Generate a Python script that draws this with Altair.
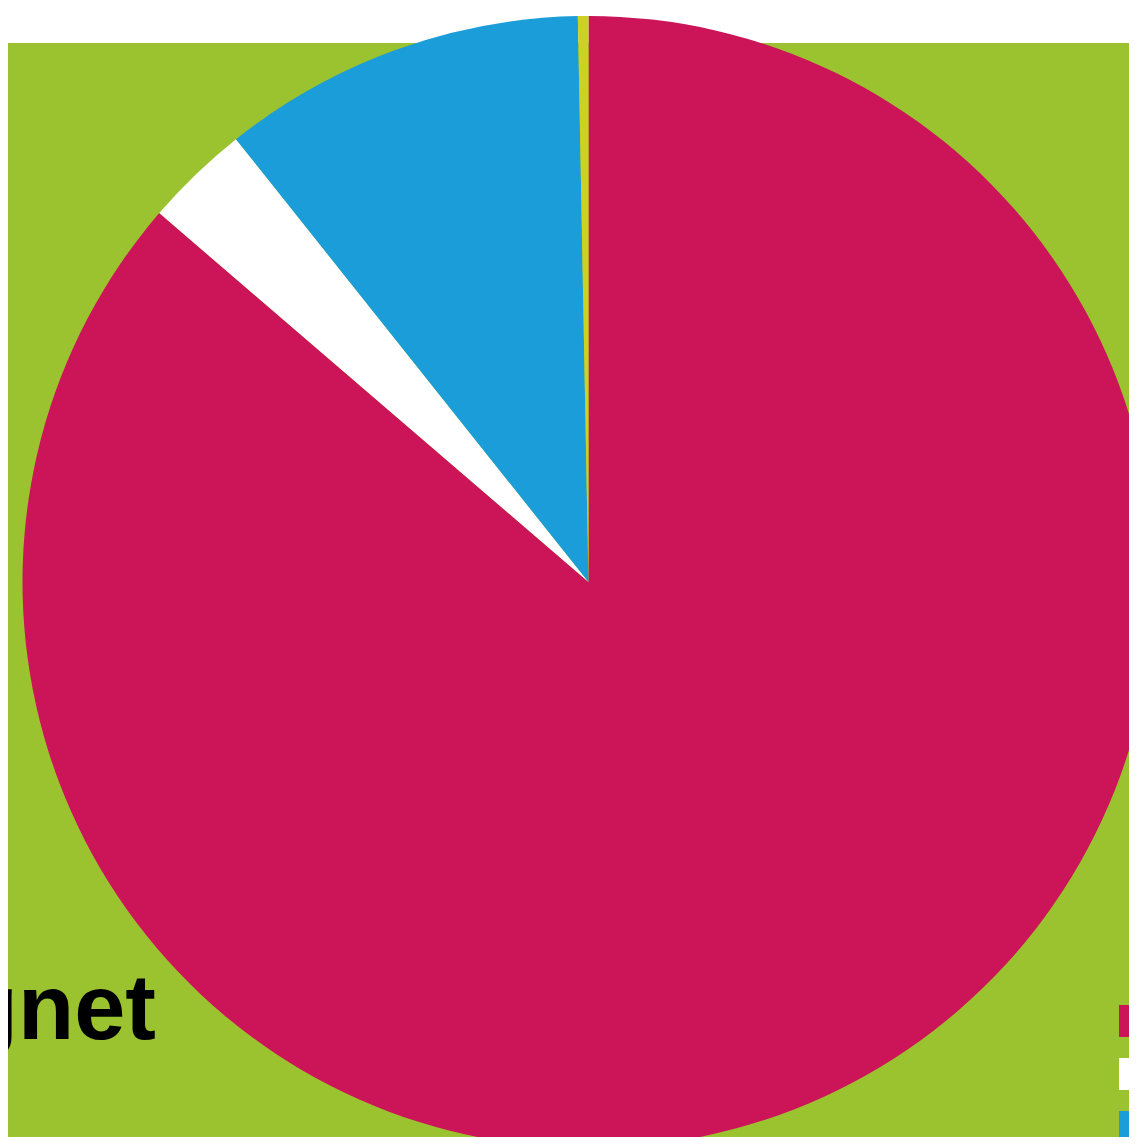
import altair as alt
import pandas as pd

# Data
categories = ["Kategori A", "Kategori B", "Kategori C", "Kategori D"]
shares = [86.3, 3.0, 10.4, 0.3]
slice_colors = ["#CC1459", "#FFFFFF", "#1A9DD9", "#CCD124"]
title_text = "Tegnet"

W, H = 1121, 1129

df = pd.DataFrame({"kategori": categories, "andel": shares, "rekkefolge": list(range(len(categories)))})

bg = alt.Chart(pd.DataFrame({"a": [0]})).mark_rect(color="#9BC22F").encode(
    x=alt.value(0), x2=alt.value(W), y=alt.value(35), y2=alt.value(H)
)

pie = alt.Chart(df).mark_arc(radius=566, strokeWidth=0).encode(
    theta=alt.Theta("andel:Q", stack=True),
    order=alt.Order("rekkefolge:Q"),
    color=alt.Color(
        "kategori:N",
        scale=alt.Scale(domain=categories, range=slice_colors),
        legend=alt.Legend(
            title=None,
            orient="none",
            legendX=1111,
            legendY=997,
            symbolType="square",
            symbolSize=1024,
            symbolStrokeWidth=0,
            symbolOpacity=1,
            rowPadding=21,
            labelFontSize=20,
            labelFont="Liberation Sans",
            padding=0,
        ),
    ),
    x=alt.value(580.5),
    y=alt.value(574),
)

txt = alt.Chart(pd.DataFrame({"t": [title_text]})).mark_text(
    align="right", baseline="alphabetic", fontSize=92, fontWeight="bold",
    font="Liberation Sans", color="#000000"
).encode(text="t:N", x=alt.value(148), y=alt.value(1031))

chart = alt.layer(bg, pie, txt).properties(
    width=W, height=H, autosize=alt.AutoSizeParams(type="none"), padding=0,
    background="#FFFFFF"
).configure_view(stroke=None)

chart.save("out.html", embed_options={"renderer": "svg", "actions": False})
